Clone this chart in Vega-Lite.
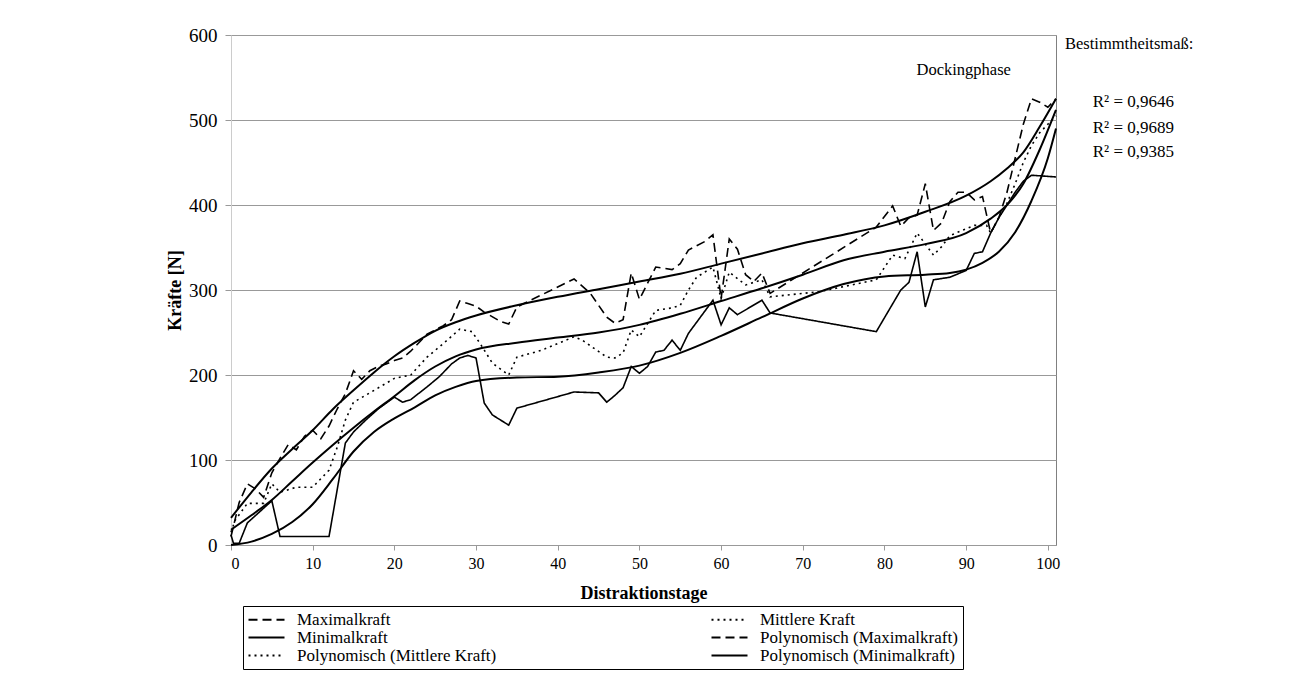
{
  "$schema": "https://vega.github.io/schema/vega-lite/v6.json",
  "autosize": "none",
  "width": 825,
  "height": 510,
  "padding": {"left": 231, "top": 35, "right": 235, "bottom": 136},
  "background": "white",
  "config": {
    "font": "Liberation Serif",
    "view": {"stroke": "#808080", "strokeWidth": 1}
  },
  "datasets": {
    "raw": [
      {"series":"Maximalkraft","day":0,"force":10},{"series":"Maximalkraft","day":1,"force":50},{"series":"Maximalkraft","day":2,"force":72},{"series":"Maximalkraft","day":3,"force":66},{"series":"Maximalkraft","day":4,"force":56},{"series":"Maximalkraft","day":5,"force":85},{"series":"Maximalkraft","day":6,"force":102},{"series":"Maximalkraft","day":7,"force":118},{"series":"Maximalkraft","day":8,"force":112},{"series":"Maximalkraft","day":9,"force":128},{"series":"Maximalkraft","day":10,"force":135},{"series":"Maximalkraft","day":11,"force":125},{"series":"Maximalkraft","day":12,"force":140},{"series":"Maximalkraft","day":13,"force":160},{"series":"Maximalkraft","day":14,"force":178},{"series":"Maximalkraft","day":15,"force":205},{"series":"Maximalkraft","day":16,"force":195},{"series":"Maximalkraft","day":17,"force":205},{"series":"Maximalkraft","day":18,"force":210},{"series":"Maximalkraft","day":19,"force":213},{"series":"Maximalkraft","day":20,"force":217},{"series":"Maximalkraft","day":21,"force":220},{"series":"Maximalkraft","day":22,"force":228},{"series":"Maximalkraft","day":23,"force":238},{"series":"Maximalkraft","day":24,"force":248},{"series":"Maximalkraft","day":25,"force":253},{"series":"Maximalkraft","day":26,"force":258},{"series":"Maximalkraft","day":27,"force":265},{"series":"Maximalkraft","day":28,"force":287},{"series":"Maximalkraft","day":29,"force":284},{"series":"Maximalkraft","day":30,"force":281},{"series":"Maximalkraft","day":31,"force":274},{"series":"Maximalkraft","day":33,"force":263},{"series":"Maximalkraft","day":34,"force":260},{"series":"Maximalkraft","day":35,"force":280},{"series":"Maximalkraft","day":42,"force":313},{"series":"Maximalkraft","day":44,"force":296},{"series":"Maximalkraft","day":46,"force":268},{"series":"Maximalkraft","day":47,"force":261},{"series":"Maximalkraft","day":48,"force":265},{"series":"Maximalkraft","day":49,"force":320},{"series":"Maximalkraft","day":50,"force":289},{"series":"Maximalkraft","day":51,"force":308},{"series":"Maximalkraft","day":52,"force":327},{"series":"Maximalkraft","day":54,"force":324},{"series":"Maximalkraft","day":55,"force":331},{"series":"Maximalkraft","day":56,"force":347},{"series":"Maximalkraft","day":58,"force":357},{"series":"Maximalkraft","day":59,"force":365},{"series":"Maximalkraft","day":60,"force":290},{"series":"Maximalkraft","day":61,"force":360},{"series":"Maximalkraft","day":62,"force":348},{"series":"Maximalkraft","day":63,"force":318},{"series":"Maximalkraft","day":64,"force":310},{"series":"Maximalkraft","day":65,"force":320},{"series":"Maximalkraft","day":66,"force":296},{"series":"Maximalkraft","day":79,"force":374},{"series":"Maximalkraft","day":81,"force":399},{"series":"Maximalkraft","day":82,"force":375},{"series":"Maximalkraft","day":83,"force":385},{"series":"Maximalkraft","day":84,"force":388},{"series":"Maximalkraft","day":85,"force":425},{"series":"Maximalkraft","day":86,"force":370},{"series":"Maximalkraft","day":87,"force":379},{"series":"Maximalkraft","day":88,"force":404},{"series":"Maximalkraft","day":89,"force":415},{"series":"Maximalkraft","day":90,"force":415},{"series":"Maximalkraft","day":91,"force":406},{"series":"Maximalkraft","day":92,"force":410},{"series":"Maximalkraft","day":93,"force":367},{"series":"Maximalkraft","day":94,"force":385},{"series":"Maximalkraft","day":95,"force":415},{"series":"Maximalkraft","day":96,"force":455},{"series":"Maximalkraft","day":97,"force":495},{"series":"Maximalkraft","day":98,"force":525},{"series":"Maximalkraft","day":99,"force":521},{"series":"Maximalkraft","day":100,"force":515},{"series":"Maximalkraft","day":101,"force":525},
      {"series":"Mittlere Kraft","day":0,"force":15},{"series":"Mittlere Kraft","day":0.5,"force":29},{"series":"Mittlere Kraft","day":2,"force":49},{"series":"Mittlere Kraft","day":4,"force":49},{"series":"Mittlere Kraft","day":5,"force":72},{"series":"Mittlere Kraft","day":6,"force":62},{"series":"Mittlere Kraft","day":8,"force":68},{"series":"Mittlere Kraft","day":10,"force":68},{"series":"Mittlere Kraft","day":12,"force":88},{"series":"Mittlere Kraft","day":13,"force":115},{"series":"Mittlere Kraft","day":14,"force":147},{"series":"Mittlere Kraft","day":15,"force":168},{"series":"Mittlere Kraft","day":17,"force":179},{"series":"Mittlere Kraft","day":20,"force":196},{"series":"Mittlere Kraft","day":22,"force":200},{"series":"Mittlere Kraft","day":24,"force":221},{"series":"Mittlere Kraft","day":26,"force":237},{"series":"Mittlere Kraft","day":28,"force":254},{"series":"Mittlere Kraft","day":29.5,"force":251},{"series":"Mittlere Kraft","day":30.5,"force":237},{"series":"Mittlere Kraft","day":32,"force":214},{"series":"Mittlere Kraft","day":34,"force":200},{"series":"Mittlere Kraft","day":35,"force":221},{"series":"Mittlere Kraft","day":38,"force":229},{"series":"Mittlere Kraft","day":42,"force":245},{"series":"Mittlere Kraft","day":43,"force":241},{"series":"Mittlere Kraft","day":46,"force":221},{"series":"Mittlere Kraft","day":47,"force":220},{"series":"Mittlere Kraft","day":48,"force":226},{"series":"Mittlere Kraft","day":49,"force":253},{"series":"Mittlere Kraft","day":50,"force":245},{"series":"Mittlere Kraft","day":52,"force":276},{"series":"Mittlere Kraft","day":54,"force":279},{"series":"Mittlere Kraft","day":55,"force":282},{"series":"Mittlere Kraft","day":56,"force":300},{"series":"Mittlere Kraft","day":57,"force":315},{"series":"Mittlere Kraft","day":59,"force":327},{"series":"Mittlere Kraft","day":60,"force":290},{"series":"Mittlere Kraft","day":61,"force":321},{"series":"Mittlere Kraft","day":63,"force":306},{"series":"Mittlere Kraft","day":65,"force":312},{"series":"Mittlere Kraft","day":66,"force":292},{"series":"Mittlere Kraft","day":72,"force":298},{"series":"Mittlere Kraft","day":79,"force":312},{"series":"Mittlere Kraft","day":81,"force":341},{"series":"Mittlere Kraft","day":82.5,"force":337},{"series":"Mittlere Kraft","day":84,"force":367},{"series":"Mittlere Kraft","day":86,"force":341},{"series":"Mittlere Kraft","day":87,"force":351},{"series":"Mittlere Kraft","day":88,"force":364},{"series":"Mittlere Kraft","day":91,"force":376},{"series":"Mittlere Kraft","day":92.5,"force":376},{"series":"Mittlere Kraft","day":93,"force":367},{"series":"Mittlere Kraft","day":94,"force":385},{"series":"Mittlere Kraft","day":95,"force":402},{"series":"Mittlere Kraft","day":96,"force":425},{"series":"Mittlere Kraft","day":97,"force":450},{"series":"Mittlere Kraft","day":98,"force":470},{"series":"Mittlere Kraft","day":99,"force":485},{"series":"Mittlere Kraft","day":100,"force":495},{"series":"Mittlere Kraft","day":101,"force":505},
      {"series":"Minimalkraft","day":0,"force":12},{"series":"Minimalkraft","day":0.3,"force":2},{"series":"Minimalkraft","day":1,"force":2},{"series":"Minimalkraft","day":2,"force":26},{"series":"Minimalkraft","day":5,"force":52},{"series":"Minimalkraft","day":6,"force":10},{"series":"Minimalkraft","day":12,"force":10},{"series":"Minimalkraft","day":14,"force":120},{"series":"Minimalkraft","day":15,"force":133},{"series":"Minimalkraft","day":16.5,"force":147},{"series":"Minimalkraft","day":18,"force":160},{"series":"Minimalkraft","day":20,"force":174},{"series":"Minimalkraft","day":21,"force":168},{"series":"Minimalkraft","day":22,"force":171},{"series":"Minimalkraft","day":24,"force":186},{"series":"Minimalkraft","day":25.5,"force":198},{"series":"Minimalkraft","day":27,"force":213},{"series":"Minimalkraft","day":28,"force":220},{"series":"Minimalkraft","day":29,"force":223},{"series":"Minimalkraft","day":30,"force":220},{"series":"Minimalkraft","day":31,"force":167},{"series":"Minimalkraft","day":32,"force":153},{"series":"Minimalkraft","day":34,"force":141},{"series":"Minimalkraft","day":35,"force":161},{"series":"Minimalkraft","day":42,"force":180},{"series":"Minimalkraft","day":45,"force":179},{"series":"Minimalkraft","day":46,"force":168},{"series":"Minimalkraft","day":47,"force":176},{"series":"Minimalkraft","day":48,"force":185},{"series":"Minimalkraft","day":49,"force":210},{"series":"Minimalkraft","day":50,"force":202},{"series":"Minimalkraft","day":51,"force":210},{"series":"Minimalkraft","day":52,"force":227},{"series":"Minimalkraft","day":53,"force":229},{"series":"Minimalkraft","day":54,"force":241},{"series":"Minimalkraft","day":55,"force":229},{"series":"Minimalkraft","day":56,"force":249},{"series":"Minimalkraft","day":59,"force":288},{"series":"Minimalkraft","day":60,"force":259},{"series":"Minimalkraft","day":61,"force":279},{"series":"Minimalkraft","day":62,"force":271},{"series":"Minimalkraft","day":65,"force":288},{"series":"Minimalkraft","day":66,"force":273},{"series":"Minimalkraft","day":79,"force":251},{"series":"Minimalkraft","day":82,"force":300},{"series":"Minimalkraft","day":83,"force":309},{"series":"Minimalkraft","day":84,"force":345},{"series":"Minimalkraft","day":85,"force":280},{"series":"Minimalkraft","day":86,"force":312},{"series":"Minimalkraft","day":88,"force":315},{"series":"Minimalkraft","day":90,"force":323},{"series":"Minimalkraft","day":91,"force":343},{"series":"Minimalkraft","day":92,"force":345},{"series":"Minimalkraft","day":93,"force":367},{"series":"Minimalkraft","day":94,"force":385},{"series":"Minimalkraft","day":95,"force":400},{"series":"Minimalkraft","day":96,"force":415},{"series":"Minimalkraft","day":97,"force":428},{"series":"Minimalkraft","day":98,"force":435},{"series":"Minimalkraft","day":101,"force":433}
    ],
    "trend": [
      {"series":"Polynomisch (Maximalkraft)","day":0,"force":32},{"series":"Polynomisch (Maximalkraft)","day":2.5,"force":62},{"series":"Polynomisch (Maximalkraft)","day":5,"force":90},{"series":"Polynomisch (Maximalkraft)","day":7.5,"force":113},{"series":"Polynomisch (Maximalkraft)","day":10,"force":135},{"series":"Polynomisch (Maximalkraft)","day":12.5,"force":160},{"series":"Polynomisch (Maximalkraft)","day":15,"force":182},{"series":"Polynomisch (Maximalkraft)","day":17.5,"force":203},{"series":"Polynomisch (Maximalkraft)","day":20,"force":222},{"series":"Polynomisch (Maximalkraft)","day":22.5,"force":238},{"series":"Polynomisch (Maximalkraft)","day":25,"force":252},{"series":"Polynomisch (Maximalkraft)","day":27.5,"force":262},{"series":"Polynomisch (Maximalkraft)","day":30,"force":270},{"series":"Polynomisch (Maximalkraft)","day":35,"force":282},{"series":"Polynomisch (Maximalkraft)","day":40,"force":292},{"series":"Polynomisch (Maximalkraft)","day":45,"force":301},{"series":"Polynomisch (Maximalkraft)","day":50,"force":310},{"series":"Polynomisch (Maximalkraft)","day":55,"force":319},{"series":"Polynomisch (Maximalkraft)","day":60,"force":331},{"series":"Polynomisch (Maximalkraft)","day":65,"force":343},{"series":"Polynomisch (Maximalkraft)","day":70,"force":355},{"series":"Polynomisch (Maximalkraft)","day":75,"force":365},{"series":"Polynomisch (Maximalkraft)","day":80,"force":376},{"series":"Polynomisch (Maximalkraft)","day":85,"force":392},{"series":"Polynomisch (Maximalkraft)","day":90,"force":411},{"series":"Polynomisch (Maximalkraft)","day":93,"force":428},{"series":"Polynomisch (Maximalkraft)","day":95,"force":443},{"series":"Polynomisch (Maximalkraft)","day":97,"force":462},{"series":"Polynomisch (Maximalkraft)","day":99,"force":492},{"series":"Polynomisch (Maximalkraft)","day":101,"force":525},
      {"series":"Polynomisch (Mittlere Kraft)","day":0,"force":18},{"series":"Polynomisch (Mittlere Kraft)","day":2.5,"force":35},{"series":"Polynomisch (Mittlere Kraft)","day":5,"force":53},{"series":"Polynomisch (Mittlere Kraft)","day":7.5,"force":75},{"series":"Polynomisch (Mittlere Kraft)","day":10,"force":97},{"series":"Polynomisch (Mittlere Kraft)","day":12.5,"force":118},{"series":"Polynomisch (Mittlere Kraft)","day":15,"force":138},{"series":"Polynomisch (Mittlere Kraft)","day":17.5,"force":157},{"series":"Polynomisch (Mittlere Kraft)","day":20,"force":175},{"series":"Polynomisch (Mittlere Kraft)","day":22.5,"force":194},{"series":"Polynomisch (Mittlere Kraft)","day":25,"force":210},{"series":"Polynomisch (Mittlere Kraft)","day":27.5,"force":222},{"series":"Polynomisch (Mittlere Kraft)","day":30,"force":230},{"series":"Polynomisch (Mittlere Kraft)","day":35,"force":238},{"series":"Polynomisch (Mittlere Kraft)","day":40,"force":244},{"series":"Polynomisch (Mittlere Kraft)","day":45,"force":250},{"series":"Polynomisch (Mittlere Kraft)","day":50,"force":259},{"series":"Polynomisch (Mittlere Kraft)","day":55,"force":272},{"series":"Polynomisch (Mittlere Kraft)","day":60,"force":287},{"series":"Polynomisch (Mittlere Kraft)","day":65,"force":302},{"series":"Polynomisch (Mittlere Kraft)","day":70,"force":318},{"series":"Polynomisch (Mittlere Kraft)","day":75,"force":335},{"series":"Polynomisch (Mittlere Kraft)","day":80,"force":345},{"series":"Polynomisch (Mittlere Kraft)","day":85,"force":354},{"series":"Polynomisch (Mittlere Kraft)","day":90,"force":367},{"series":"Polynomisch (Mittlere Kraft)","day":93,"force":384},{"series":"Polynomisch (Mittlere Kraft)","day":95,"force":400},{"series":"Polynomisch (Mittlere Kraft)","day":97,"force":425},{"series":"Polynomisch (Mittlere Kraft)","day":99,"force":465},{"series":"Polynomisch (Mittlere Kraft)","day":101,"force":512},
      {"series":"Polynomisch (Minimalkraft)","day":0,"force":0},{"series":"Polynomisch (Minimalkraft)","day":2.5,"force":4},{"series":"Polynomisch (Minimalkraft)","day":5,"force":13},{"series":"Polynomisch (Minimalkraft)","day":7.5,"force":27},{"series":"Polynomisch (Minimalkraft)","day":10,"force":48},{"series":"Polynomisch (Minimalkraft)","day":12.5,"force":78},{"series":"Polynomisch (Minimalkraft)","day":15,"force":110},{"series":"Polynomisch (Minimalkraft)","day":17.5,"force":133},{"series":"Polynomisch (Minimalkraft)","day":20,"force":149},{"series":"Polynomisch (Minimalkraft)","day":22.5,"force":162},{"series":"Polynomisch (Minimalkraft)","day":25,"force":176},{"series":"Polynomisch (Minimalkraft)","day":27.5,"force":186},{"series":"Polynomisch (Minimalkraft)","day":30,"force":193},{"series":"Polynomisch (Minimalkraft)","day":35,"force":197},{"series":"Polynomisch (Minimalkraft)","day":40,"force":198},{"series":"Polynomisch (Minimalkraft)","day":45,"force":203},{"series":"Polynomisch (Minimalkraft)","day":50,"force":211},{"series":"Polynomisch (Minimalkraft)","day":55,"force":226},{"series":"Polynomisch (Minimalkraft)","day":60,"force":246},{"series":"Polynomisch (Minimalkraft)","day":65,"force":268},{"series":"Polynomisch (Minimalkraft)","day":70,"force":290},{"series":"Polynomisch (Minimalkraft)","day":75,"force":307},{"series":"Polynomisch (Minimalkraft)","day":80,"force":316},{"series":"Polynomisch (Minimalkraft)","day":85,"force":318},{"series":"Polynomisch (Minimalkraft)","day":88,"force":320},{"series":"Polynomisch (Minimalkraft)","day":90,"force":324},{"series":"Polynomisch (Minimalkraft)","day":92,"force":332},{"series":"Polynomisch (Minimalkraft)","day":94,"force":345},{"series":"Polynomisch (Minimalkraft)","day":96,"force":368},{"series":"Polynomisch (Minimalkraft)","day":98,"force":405},{"series":"Polynomisch (Minimalkraft)","day":100,"force":455},{"series":"Polynomisch (Minimalkraft)","day":101,"force":490}
    ],
    "notes": [
      {"label":"Dockingphase","day":89.7,"force":559}
    ],
    "side": [
      {"label":"Bestimmtheitsmaß:","day":102.1,"force":590}
    ],
    "r2": [
      {"label":"R² = 0,9646","day":105.5,"force":521},
      {"label":"R² = 0,9689","day":105.5,"force":491},
      {"label":"R² = 0,9385","day":105.5,"force":462}
    ]
  },
  "encoding": {
    "x": {
      "field": "day", "type": "quantitative",
      "scale": {"domain": [0, 101], "nice": false, "zero": false},
      "axis": {
        "title": "Distraktionstage", "titleFont": "Liberation Serif", "titleFontSize": 18, "titleFontWeight": "bold", "titleColor": "black",
        "titleY": 48, "titleBaseline": "middle",
        "values": [0,10,20,30,40,50,60,70,80,90,100],
        "labelFont": "Liberation Serif", "labelFontSize": 16, "labelColor": "black", "labelPadding": 5,
        "tickSize": 5, "tickColor": "#999999", "domainColor": "#999999",
        "grid": false
      }
    },
    "y": {
      "field": "force", "type": "quantitative",
      "scale": {"domain": [0, 600], "nice": false},
      "axis": {
        "title": "Kräfte [N]", "titleFont": "Liberation Serif", "titleFontSize": 18, "titleFontWeight": "bold", "titleColor": "black",
        "titleX": -56, "titleY": 255, "titleBaseline": "middle",
        "values": [0,100,200,300,400,500,600],
        "labelFont": "Liberation Serif", "labelFontSize": 19, "labelColor": "black", "labelPadding": 8,
        "tickSize": 6, "tickColor": "#999999", "domainColor": "#cccccc",
        "grid": true, "gridColor": "#999999", "gridWidth": 1
      }
    }
  },
  "layer": [
    {
      "data": {"name": "raw"},
      "mark": {"type": "line", "color": "black", "strokeWidth": 1.6},
      "encoding": {
        "strokeDash": {
          "field": "series", "type": "nominal",
          "scale": {
            "domain": ["Maximalkraft","Mittlere Kraft","Minimalkraft","Polynomisch (Maximalkraft)","Polynomisch (Mittlere Kraft)","Polynomisch (Minimalkraft)"],
            "range": [[9,5],[2,4],[1,0],[9,5],[2,4],[1,0]]
          },
          "legend": {
            "title": null, "orient": "none", "legendX": 12, "legendY": 571,
            "direction": "horizontal", "columns": 2, "columnPadding": 210, "rowPadding": 0,
            "symbolType": "M-2.4,0H2.4", "symbolSize": 225, "symbolStrokeWidth": 1.8, "symbolStrokeColor": "black",
            "symbolOffset": 10,
            "labelFont": "Liberation Serif", "labelFontSize": 17, "labelColor": "black", "labelOffset": 22, "labelLimit": 400,
            "padding": 5, "strokeColor": "black", "fillColor": "white"
          }
        }
      }
    },
    {
      "data": {"name": "trend"},
      "mark": {"type": "line", "color": "black", "strokeWidth": 2, "interpolate": "monotone"},
      "encoding": {"detail": {"field": "series", "type": "nominal"}}
    },
    {
      "data": {"name": "notes"},
      "mark": {"type": "text", "font": "Liberation Serif", "fontSize": 16.5, "color": "black", "align": "center", "baseline": "middle"},
      "encoding": {"text": {"field": "label", "type": "nominal"}}
    },
    {
      "data": {"name": "side"},
      "mark": {"type": "text", "font": "Liberation Serif", "fontSize": 16.5, "color": "black", "align": "left", "baseline": "middle"},
      "encoding": {"text": {"field": "label", "type": "nominal"}}
    },
    {
      "data": {"name": "r2"},
      "mark": {"type": "text", "font": "Liberation Serif", "fontSize": 17, "color": "black", "align": "left", "baseline": "middle"},
      "encoding": {"text": {"field": "label", "type": "nominal"}}
    }
  ]
}
